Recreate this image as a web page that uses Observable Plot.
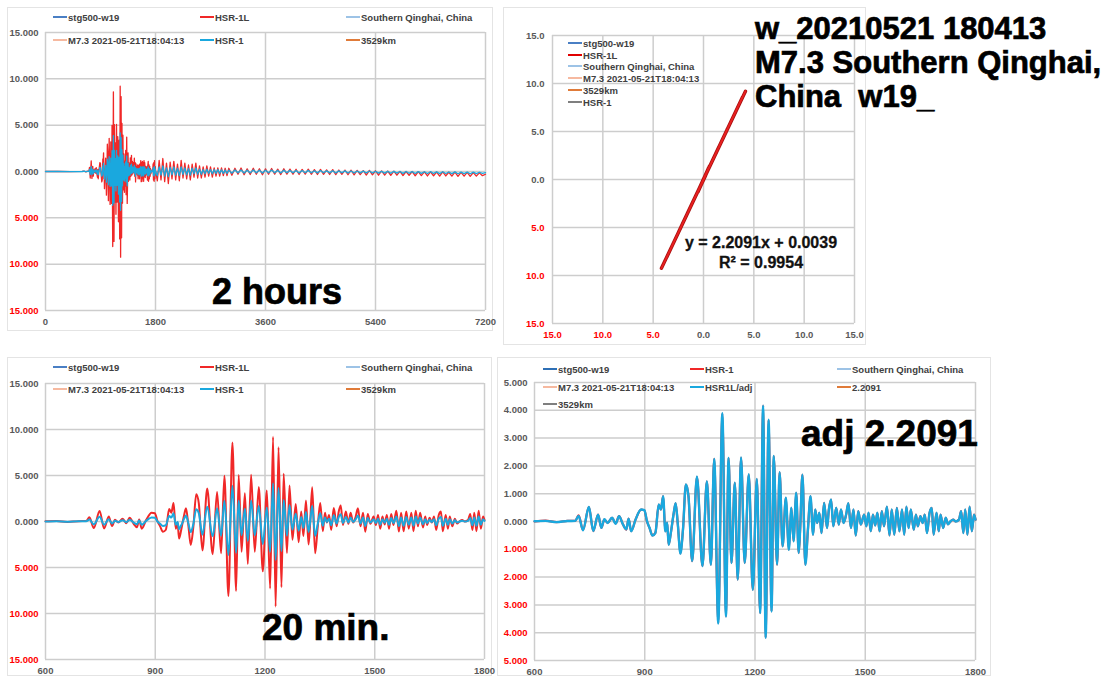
<!DOCTYPE html>
<html>
<head>
<meta charset="utf-8">
<script src="https://cdn.jsdelivr.net/npm/d3@7"></script>
<script src="https://cdn.jsdelivr.net/npm/@observablehq/plot@0.6"></script>
<style>
  body { margin: 0; background: #fff; font-family: "Liberation Sans", Arial, sans-serif; }
  #root { position: relative; width: 1106px; height: 677px; overflow: hidden; background: #fff; }
  .panel { position: absolute; border: 1.5px solid #e4e4e4; box-sizing: border-box; }
  .chart { position: absolute; }
  .leg { position: absolute; height: 12px; font-size: 9.5px; font-weight: bold; color: #404040; white-space: nowrap; display: flex; align-items: center; }
  .leg .sw { display: inline-block; width: 14px; height: 2px; margin-right: 1px; }
  .big { position: absolute; font-weight: bold; color: #000; white-space: nowrap; line-height: 1; -webkit-text-stroke: 0.7px #000; }
  .reg { position: absolute; width: 220px; text-align: center; font-weight: bold; font-size: 16px; color: #111; line-height: 1; -webkit-text-stroke: 0.3px #111; }
</style>
</head>
<body>
<div id="root"></div>
<script>
// ---------------- DATA ----------------
// pre-event samples (s)
const tPre = [0, 200, 400];
const hsr1Pre = [0.00, 0.01, -0.01];
const hsr1LPre = [0.00, 0.02, -0.02];

// 20-minute window samples (s)
const t20 = [
  600,630,660,690,711,720,732,748,760,773,
  782,790,799,811,821,830,841,850,856,863,
  875,890,899,906,913,921,929,938,944,950,
  956,961,965,971,979,984,990,997,1004,1012,
  1019,1029,1042,1057,1069,1080,1089,1100,1111,1121,
  1128,1136,1145,1153,1162,1172,1183,1194,1205,1214,
  1222,1229,1237,1245,1251,1260,1267,1275,1284,1292,
  1299,1305,1312,1319,1323,1329,1337,1344,1351,1358,
  1364,1369,1375,1381,1388,1396,1401,1407,1413,1421,
  1428,1434,1441,1448,1454,1461,1468,1474,1481,1488,
  1497,1503,1509,1515,1521,1527,1533,1539,1545,1551,
  1559,1566,1572,1579,1586,1593,1600,1606,1612,1618,
  1624,1632,1638,1643,1650,1656,1662,1668,1675,1681,
  1686,1694,1700,1705,1712,1719,1725,1732,1739,1746,
  1755,1761,1767,1772,1778,1784,1790,1796,1800
];
// HSR-1
const hsr1_20 = [
  0.00,0.03,-0.02,0.02,0.02,0.22,-0.31,0.52,-0.35,0.25,
  -0.23,0.07,-0.05,0.13,-0.07,0.19,-0.11,-0.29,0.10,-0.35,
  0.07,0.43,0.40,0.00,-0.23,-0.50,-0.40,0.61,0.43,0.91,
  -0.35,-0.05,-0.83,-0.41,0.31,0.65,-0.10,-1.15,-0.30,1.33,
  0.91,-1.43,1.61,-1.61,1.44,-1.55,2.25,-3.65,3.88,-3.41,
  2.29,-1.49,1.39,-2.09,2.29,-1.49,1.69,-2.45,1.52,-3.29,
  4.17,-4.18,3.65,-3.23,2.35,-1.55,1.77,-0.89,0.85,-1.01,
  0.49,-0.71,1.03,-1.13,-0.23,1.69,-1.55,-0.29,0.91,-0.47,
  0.43,-0.05,0.31,-0.41,0.67,-0.23,0.43,0.79,-0.17,0.49,
  -0.11,0.43,-0.05,0.25,0.65,-0.23,0.43,-0.50,0.37,-0.11,
  0.25,-0.17,0.31,-0.35,0.25,-0.14,0.31,-0.35,0.37,-0.17,
  0.53,-0.50,0.43,-0.47,0.49,-0.35,0.43,-0.47,0.53,-0.23,
  0.43,-0.29,0.25,-0.17,0.19,-0.05,0.25,-0.41,0.31,0.49,
  -0.47,0.31,-0.35,0.25,-0.23,0.13,-0.10,0.00,0.07,0.00,
  0.07,0.37,-0.41,0.43,-0.47,0.53,-0.35,0.25,0.07
];
// HSR-1L
const hsr1L_20 = [
  0.02,0.05,-0.05,0.04,0.05,0.45,-0.70,1.15,-0.75,0.55,
  -0.50,0.18,-0.12,0.30,-0.18,0.42,-0.25,-0.62,0.22,-0.78,
  0.15,0.95,0.90,0.05,-0.50,-1.12,-0.90,1.35,0.95,2.02,
  -0.78,-0.10,-1.85,-0.90,0.70,1.45,-0.22,-2.55,-0.65,2.95,
  2.00,-3.15,3.58,-3.55,3.20,-3.45,4.98,-8.10,8.60,-7.55,
  5.05,-3.30,3.08,-4.62,5.08,-3.30,3.75,-5.42,3.38,-7.28,
  9.20,-9.25,8.08,-7.15,5.20,-3.42,3.92,-1.98,1.90,-2.25,
  1.10,-1.58,2.28,-2.50,-0.52,3.72,-3.45,-0.65,2.02,-1.05,
  0.95,-0.12,0.70,-0.92,1.48,-0.52,0.95,1.75,-0.38,1.10,
  -0.25,0.95,-0.12,0.55,1.45,-0.52,0.95,-1.12,0.82,-0.25,
  0.55,-0.38,0.70,-0.78,0.55,-0.32,0.70,-0.78,0.82,-0.38,
  1.18,-1.10,0.95,-1.05,1.08,-0.78,0.95,-1.05,1.18,-0.52,
  0.95,-0.65,0.55,-0.38,0.42,-0.12,0.55,-0.92,0.70,1.08,
  -1.05,0.70,-0.78,0.55,-0.52,0.30,-0.22,0.02,0.15,0.00,
  0.15,0.82,-0.92,0.95,-1.05,1.18,-0.78,0.55,0.15
];

// coda after the 20-minute window (s)
const tTail = [
  1830,1860,1890,1920,1950,1980,2010,2040,2070,2100,
  2130,2160,2190,2220,2250,2280,2310,2340,2370,2400,
  2430,2460,2490,2520,2550,2580,2610,2640,2670,2700,
  2730,2760,2790,2820,2850,2880,2910,2940,2970,3000,
  3050,3100,3150,3200,3250,3300,3350,3400,3450,3500,
  3550,3600,3650,3700,3750,3800,3850,3900,3950,4000,
  4050,4100,4150,4200,4250,4300,4350,4400,4450,4500,
  4550,4600,4650,4700,4750,4800,4850,4900,4950,5000,
  5050,5100,5150,5200,5250,5300,5350,5400,5450,5500,
  5550,5600,5650,5700,5750,5800,5850,5900,5950,6000,
  6050,6100,6150,6200,6250,6300,6350,6400,6450,6500,
  6550,6600,6650,6700,6750,6800,6850,6900,6950,7000,
  7050,7100,7150,7200
];
const hsr1LTail = [
  -1.0,1.2,-0.9,1.4,-1.1,0.9,-1.3,1.0,-0.8,1.1,
  -0.9,0.8,-1.0,1.2,-0.7,0.9,-0.8,0.7,-0.9,0.8,
  -0.6,0.9,-0.7,0.6,-0.7,0.5,-0.6,0.6,-0.5,0.5,
  -0.6,0.4,-0.5,0.4,-0.5,0.4,-0.45,0.35,-0.45,0.35,
  -0.40,0.35,-0.30,0.38,-0.35,0.28,-0.32,0.35,-0.30,0.30,
  -0.35,0.28,-0.30,0.32,-0.28,0.25,-0.33,0.30,-0.28,0.26,
  -0.30,0.24,-0.32,0.22,-0.28,0.25,-0.30,0.20,-0.32,0.22,
  -0.30,0.18,-0.32,0.20,-0.34,0.16,-0.30,0.15,-0.35,0.14,
  -0.36,0.12,-0.34,0.10,-0.38,0.12,-0.36,0.08,-0.40,0.06,
  -0.38,0.05,-0.42,0.04,-0.40,0.02,-0.44,0.00,-0.42,0.00,
  -0.46,-0.02,-0.44,-0.04,-0.48,-0.03,-0.46,-0.06,-0.50,-0.05,
  -0.48,-0.08,-0.50,-0.07,-0.52,-0.10,-0.50,-0.10,-0.52,-0.12,
  -0.50,-0.15,-0.45,-0.30
];
const hsr1Tail = [
  -0.45,0.5,-0.4,0.6,-0.5,0.4,-0.55,0.45,-0.35,0.5,
  -0.4,0.35,-0.45,0.5,-0.3,0.4,-0.35,0.3,-0.4,0.35,
  -0.25,0.4,-0.3,0.25,-0.3,0.2,-0.25,0.25,-0.2,0.2,
  -0.25,0.2,-0.2,0.2,-0.2,0.18,-0.2,0.15,-0.2,0.15,
  -0.18,0.16,-0.14,0.17,-0.16,0.13,-0.15,0.16,-0.14,0.14,
  -0.16,0.13,-0.14,0.15,-0.13,0.12,-0.15,0.14,-0.13,0.12,
  -0.14,0.11,-0.15,0.10,-0.13,0.12,-0.14,0.09,-0.15,0.10,
  -0.14,0.08,-0.15,0.09,-0.16,0.07,-0.14,0.07,-0.16,0.06,
  -0.16,0.05,-0.15,0.04,-0.17,0.05,-0.16,0.03,-0.18,0.02,
  -0.17,0.02,-0.19,0.01,-0.18,0.00,-0.20,0.00,-0.19,-0.01,
  -0.21,-0.02,-0.20,-0.03,-0.22,-0.02,-0.21,-0.04,-0.23,-0.03,
  -0.22,-0.05,-0.23,-0.04,-0.24,-0.06,-0.23,-0.06,-0.24,-0.07,
  -0.23,-0.08,-0.20,-0.12
];

const ADJ = 2.2091;           // regression slope used for adjustment
const regLine = "y = 2.2091x + 0.0039";
const regR2 = "R\u00b2 = 0.9954";

// tick values
const xTicks2h = [0, 1800, 3600, 5400, 7200];
const xTicks20 = [600, 900, 1200, 1500, 1800];
const yTicks15 = [-15, -10, -5, 0, 5, 10, 15];
const yTicks5 = [-5, -4, -3, -2, -1, 0, 1, 2, 3, 4, 5];
const xyTicks = [-15, -10, -5, 0, 5, 10, 15];

// legend labels
const legTop = ["stg500-w19", "HSR-1L", "Southern Qinghai, China", "M7.3 2021-05-21T18:04:13", "HSR-1", "3529km"];
const legScatter = ["stg500-w19", "HSR-1L", "Southern Qinghai, China", "M7.3 2021-05-21T18:04:13", "3529km", "HSR-1"];
const legAdj = ["stg500-w19", "HSR-1", "Southern Qinghai, China", "M7.3 2021-05-21T18:04:13", "HSR1L/adj", "2.2091", "3529km"];

const titleLines = ["w_20210521 180413", "M7.3 Southern Qinghai,", "China\u00a0 w19_"];
const label2h = "2 hours";
const label20 = "20 min.";
const labelAdj = "adj 2.2091";

// ---------------- TABLES ----------------
const rows20 = t20.map((t, i) => ({ t, hsr1: hsr1_20[i], hsr1L: hsr1L_20[i], adj: hsr1L_20[i] / ADJ }));
const rowsPre = tPre.map((t, i) => ({ t, hsr1: hsr1Pre[i], hsr1L: hsr1LPre[i] }));
const rowsTail = tTail.map((t, i) => ({ t, hsr1: hsr1Tail[i], hsr1L: hsr1LTail[i] }));
const rows2h = [...rowsPre, ...rows20, ...rowsTail];

// ---------------- STYLE ----------------
const FONT = "'Liberation Sans', Arial, sans-serif";
const GRID = "#cdcdcd";
const TICK = "#595959";
const TICKNEG = "#ff0000";
const RED = "#f02828";
const CYAN = "#1aa8de";
const C_STG = "#4a7fc4";
const C_STG2 = "#2e6fb5";
const C_SQ = "#9dc3e6";
const C_M73 = "#f6b9a0";
const C_KM = "#e07b39";
const C_GRAY = "#7f7f7f";

const root = document.getElementById("root");
const abs3 = d => d3.format(".3f")(Math.abs(d));
const abs1 = d => d3.format(".1f")(Math.abs(d));

function frame(l, t, r, b) {
  const d = document.createElement("div");
  d.className = "panel";
  Object.assign(d.style, { left: l + "px", top: t + "px", width: (r - l) + "px", height: (b - t) + "px" });
  root.appendChild(d);
}
function place(svg, l, t) {
  svg.classList.add("chart");
  svg.style.left = l + "px";
  svg.style.top = t + "px";
  root.appendChild(svg);
}
function colorNeg(svg, axis, ticks) {
  svg.querySelectorAll(`g[aria-label="${axis}-axis tick label"] text`).forEach((n, i) => {
    n.setAttribute("fill", ticks[i] < 0 ? TICKNEG : TICK);
  });
}
function legend(items) {
  for (const [x, y, color, label] of items) {
    const d = document.createElement("div");
    d.className = "leg";
    d.style.left = x + "px";
    d.style.top = (y - 6) + "px";
    const sw = document.createElement("span");
    sw.className = "sw";
    sw.style.background = color;
    const tx = document.createElement("span");
    tx.textContent = label;
    d.appendChild(sw); d.appendChild(tx);
    root.appendChild(d);
  }
}
function bigText(txt, l, t, size) {
  const d = document.createElement("div");
  d.className = "big";
  d.style.left = l + "px"; d.style.top = t + "px"; d.style.fontSize = size + "px";
  d.textContent = txt;
  root.appendChild(d);
}
const baseStyle = { fontFamily: FONT, fontSize: "9.5px", fontWeight: "bold", color: TICK, background: "transparent", overflow: "visible" };

function wavePlot(o) {
  return Plot.plot({
    width: o.w, height: o.h,
    marginLeft: o.ml, marginRight: o.mr, marginTop: o.mt, marginBottom: o.mb,
    x: { domain: o.xd }, y: { domain: o.yd },
    style: baseStyle,
    marks: [
      Plot.gridX(o.xt, { stroke: GRID, strokeOpacity: 1, strokeWidth: 1.5 }),
      Plot.gridY(o.yt, { stroke: GRID, strokeOpacity: 1, strokeWidth: 1.5 }),
      ...o.lines,
      Plot.axisX(o.xt, { tickSize: 0, tickPadding: o.xp, tickFormat: o.xf, label: null, fill: TICK }),
      Plot.axisY(o.yt, { tickSize: 0, tickPadding: o.yp, tickFormat: o.yf, label: null, fill: TICK })
    ]
  });
}

// ---------------- PANEL FRAMES ----------------
frame(7, 7, 493, 331);
frame(503, 7, 866, 345);
frame(7, 357, 492, 676);
frame(497, 357, 991, 676);

// ---------------- PANEL 1: 2 hours ----------------
const p1 = wavePlot({
  w: 495, h: 340, ml: 45, mr: 10, mt: 32, mb: 30,
  xd: [0, 7200], yd: [-15, 15], xt: xTicks2h, yt: yTicks15,
  xp: 8, yp: 7, xf: d => String(d), yf: abs3,
  lines: [
    Plot.line(rows2h, { x: "t", y: "hsr1L", stroke: RED, strokeWidth: 1.3 }),
    Plot.line(rows2h, { x: "t", y: "hsr1", stroke: CYAN, strokeWidth: 1.3 })
  ]
});
colorNeg(p1, "y", yTicks15);
place(p1, 0, 0);

// ---------------- PANEL 2: scatter ----------------
const p2 = Plot.plot({
  width: 370, height: 345, marginLeft: 52, marginRight: 16, marginTop: 35, marginBottom: 22,
  x: { domain: [-15, 15] }, y: { domain: [-15, 15] },
  style: baseStyle,
  marks: [
    Plot.gridX(xyTicks, { stroke: GRID, strokeOpacity: 1, strokeWidth: 1.5 }),
    Plot.gridY(xyTicks, { stroke: GRID, strokeOpacity: 1, strokeWidth: 1.5 }),
    Plot.line(rows2h, { x: "hsr1", y: "hsr1L", stroke: "#a80f0f", strokeWidth: 3.4 }),
    Plot.line(rows2h, { x: "hsr1", y: "hsr1L", stroke: "#e82020", strokeWidth: 1.8 }),
    Plot.axisX(xyTicks, { tickSize: 0, tickPadding: 8, tickFormat: abs1, label: null, fill: TICK }),
    Plot.axisY(xyTicks, { tickSize: 0, tickPadding: 8, tickFormat: abs1, label: null, fill: TICK })
  ]
});
colorNeg(p2, "x", xyTicks);
colorNeg(p2, "y", xyTicks);
place(p2, 500, 0);

// ---------------- PANEL 3: 20 min ----------------
const p3 = wavePlot({
  w: 495, h: 327, ml: 45, mr: 11, mt: 33, mb: 18,
  xd: [600, 1800], yd: [-15, 15], xt: xTicks20, yt: yTicks15,
  xp: 8, yp: 7, xf: d => String(d), yf: abs3,
  lines: [
    Plot.line(rows20, { x: "t", y: "hsr1L", stroke: RED, strokeWidth: 2, curve: "monotone-x" }),
    Plot.line(rows20, { x: "t", y: "hsr1", stroke: CYAN, strokeWidth: 2, curve: "monotone-x" })
  ]
});
colorNeg(p3, "y", yTicks15);
place(p3, 0, 350);

// ---------------- PANEL 4: adjusted ----------------
const p4 = wavePlot({
  w: 500, h: 327, ml: 44, mr: 15, mt: 32, mb: 17,
  xd: [600, 1800], yd: [-5, 5], xt: xTicks20, yt: yTicks5,
  xp: 8, yp: 7, xf: d => String(d), yf: abs3,
  lines: [
    Plot.line(rows20, { x: "t", y: "hsr1", stroke: RED, strokeWidth: 2.2, curve: "monotone-x" }),
    Plot.line(rows20, { x: "t", y: "adj", stroke: CYAN, strokeWidth: 2.4, curve: "monotone-x" })
  ]
});
colorNeg(p4, "y", yTicks5);
place(p4, 490, 350);

// ---------------- LEGENDS ----------------
legend([
  [53, 17, C_STG, legTop[0]], [200, 17, RED, legTop[1]], [346, 17, C_SQ, legTop[2]],
  [53, 40, C_M73, legTop[3]], [200, 40, CYAN, legTop[4]], [346, 40, C_KM, legTop[5]]
]);
legend([
  [53, 367, C_STG, legTop[0]], [200, 367, RED, legTop[1]], [346, 367, C_SQ, legTop[2]],
  [53, 389, C_M73, legTop[3]], [200, 389, CYAN, legTop[4]], [346, 389, C_KM, legTop[5]]
]);
legend([
  [568, 43, C_STG, legScatter[0]], [568, 55, "#e00000", legScatter[1]], [568, 66, C_SQ, legScatter[2]],
  [568, 78, C_M73, legScatter[3]], [568, 90, C_KM, legScatter[4]], [568, 102, C_GRAY, legScatter[5]]
]);
legend([
  [543, 369, C_STG2, legAdj[0]], [690, 369, RED, legAdj[1]], [837, 369, C_SQ, legAdj[2]],
  [543, 387, C_M73, legAdj[3]], [690, 387, CYAN, legAdj[4]], [837, 387, C_KM, legAdj[5]],
  [543, 404, C_GRAY, legAdj[6]]
]);

// ---------------- ANNOTATIONS ----------------
const tdiv = document.createElement("div");
tdiv.className = "big";
Object.assign(tdiv.style, { left: "755px", top: "12px", fontSize: "31px", lineHeight: "34px" });
tdiv.innerHTML = titleLines.map(s => s.replace(/&/g, "&amp;")).join("<br>");
root.appendChild(tdiv);

bigText(label2h, 212, 274, 36);
bigText(label20, 262, 609, 37);
bigText(labelAdj, 801, 415, 37);

const r1 = document.createElement("div");
r1.className = "reg"; r1.style.left = "651px"; r1.style.top = "235px"; r1.textContent = regLine;
root.appendChild(r1);
const r2 = document.createElement("div");
r2.className = "reg"; r2.style.left = "651px"; r2.style.top = "255px"; r2.textContent = regR2;
root.appendChild(r2);
</script>
</body>
</html>
